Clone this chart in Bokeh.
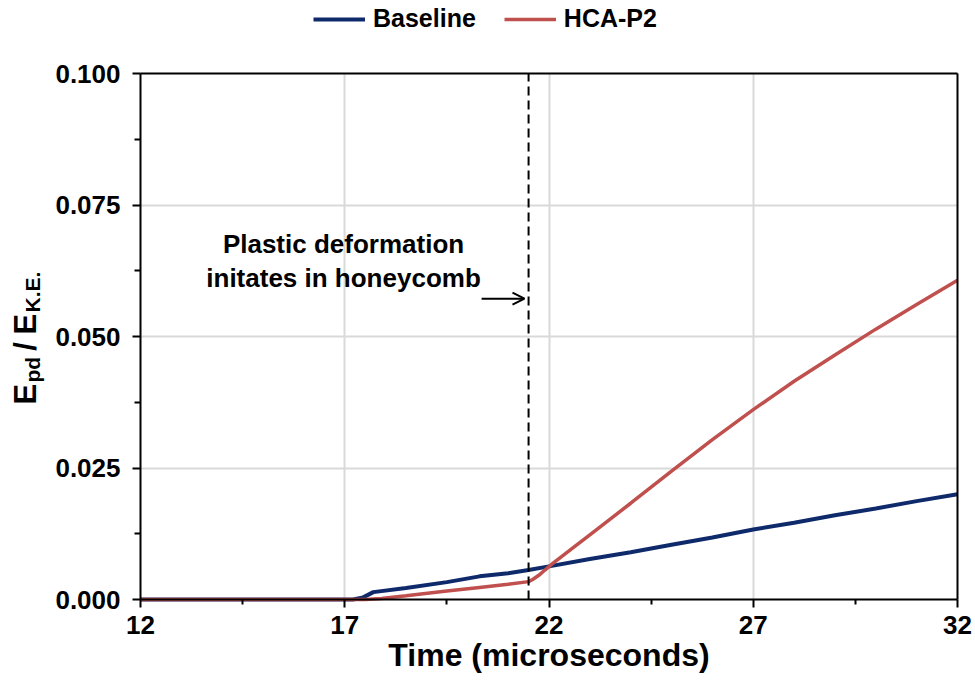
import math
from bokeh.plotting import figure
from bokeh.models import (Range1d, FixedTicker, Label, Arrow, OpenHead, Grid,
                          Legend, LegendItem, NumeralTickFormatter, LinearAxis)
from bokeh.embed import file_html
from bokeh.resources import INLINE

# ---- data ----
base_t = [12, 17.2, 17.45, 17.7, 18.5, 19.5, 20.3, 21.0, 21.5, 22.0, 23, 24, 25, 26, 27, 28, 29, 30, 31, 32]
base_v = [0, 0, 0.0004, 0.0014, 0.0022, 0.0033, 0.0044, 0.0050, 0.0056, 0.0063, 0.0077,
          0.0090, 0.0104, 0.0118, 0.0133, 0.0146, 0.0160, 0.0173, 0.0187, 0.0200]

hca_t = [12, 17.5, 17.9, 18.5, 19.5, 20.3, 21.0, 21.5, 21.6, 21.75, 21.9, 22.1, 22.3, 22.6,
         23, 24, 25, 26, 27, 28, 29, 30, 31, 32]
hca_v = [0, 0, 0.0002, 0.0007, 0.0016, 0.0023, 0.0029, 0.0034, 0.0038, 0.0046, 0.0056, 0.0069,
         0.0081, 0.0099, 0.0123, 0.0183, 0.0244, 0.0304, 0.0361, 0.0415, 0.0465, 0.0514,
         0.0561, 0.0607]

x_major = [12, 17, 22, 27, 32]
x_minor = [14.5, 19.5, 24.5, 29.5]
y_major = [0.0, 0.025, 0.05, 0.075, 0.1]
y_minor = [0.0125, 0.0375, 0.0625, 0.0875]

X_LO, X_HI = 12, 32
Y_LO, Y_HI = 0.0, 0.1

onset_t = 21.5
note_lines = ["Plastic deformation", "initates in honeycomb"]
note_x = 16.97
note_y = [0.0675, 0.0612]
arrow_x = [20.35, 21.40]
arrow_y = 0.0572

FONT = "Liberation Sans"
BLUE = "#0E2A6B"
RED = "#C0504D"

# ---- layout: frame covers the whole canvas; axes are pinned inside it ----
W, H = 975, 690
PL, PR, PT, PB = 140, 957, 73, 599      # plot box in canvas pixels
xs = (PR - PL) / (X_HI - X_LO)
ys = (PB - PT) / (Y_HI - Y_LO)
xr = Range1d(X_LO - PL / xs, X_HI + (W - PR) / xs)
yr = Range1d(Y_LO - (H - PB) / ys, Y_HI + PT / ys)

p = figure(width=W, height=H, output_backend="svg", toolbar_location=None,
           x_range=xr, y_range=yr, title=None, min_border=0)
p.background_fill_color = "white"
p.border_fill_color = "white"
p.outline_line_color = None

# grid lines limited to the plot box
grid_ok = "cross_bounds" in Grid.properties()
p.xgrid.ticker = FixedTicker(ticks=x_major[1:-1])
p.ygrid.ticker = FixedTicker(ticks=y_major[1:-1])
for g in (p.xgrid, p.ygrid):
    g.grid_line_color = "#D9D9D9"
    g.grid_line_width = 2
if grid_ok:
    p.xgrid.cross_bounds = (Y_LO, Y_HI)
    p.ygrid.cross_bounds = (X_LO, X_HI)
else:
    p.xgrid.visible = False
    p.ygrid.visible = False
    gx = x_major[1:-1]
    gy = y_major[1:-1]
    p.segment(x0=gx, y0=[Y_LO] * len(gx), x1=gx, y1=[Y_HI] * len(gx),
              line_color="#D9D9D9", line_width=2, level="underlay")
    p.segment(x0=[X_LO] * len(gy), y0=gy, x1=[X_HI] * len(gy), y1=gy,
              line_color="#D9D9D9", line_width=2, level="underlay")

# axes
xa = p.xaxis[0]
ya = p.yaxis[0]
xa.fixed_location = Y_LO
ya.fixed_location = X_LO
xa.bounds = (X_LO, X_HI)
ya.bounds = (Y_LO, Y_HI)
xa.ticker = FixedTicker(ticks=x_major, minor_ticks=x_minor)
ya.ticker = FixedTicker(ticks=y_major, minor_ticks=y_minor)
ya.formatter = NumeralTickFormatter(format="0.000")
for ax in (xa, ya):
    ax.axis_line_color = "black"
    ax.axis_line_width = 2
    ax.major_tick_line_color = "black"
    ax.major_tick_line_width = 2
    ax.minor_tick_line_color = "black"
    ax.minor_tick_line_width = 2
    ax.major_tick_in = 0
    ax.minor_tick_in = 0
    ax.major_tick_out = 8
    ax.major_label_text_font = FONT
    ax.major_label_text_font_style = "bold"
    ax.major_label_text_font_size = "26px"
    ax.major_label_text_color = "black"
xa.minor_tick_out = 5
ya.minor_tick_out = 6
xa.major_label_standoff = 8
ya.major_label_standoff = 12

xa.axis_label = "Time (microseconds)"
xa.axis_label_text_font = FONT
xa.axis_label_text_font_style = "bold"
xa.axis_label_text_font_size = "32px"
xa.axis_label_text_color = "black"
xa.axis_label_standoff = 0

# top and right borders of the plot box
top = LinearAxis(fixed_location=Y_HI, bounds=(X_LO, X_HI), ticker=FixedTicker(ticks=[]),
                 axis_line_color="black", axis_line_width=2)
right = LinearAxis(fixed_location=X_HI, bounds=(Y_LO, Y_HI), ticker=FixedTicker(ticks=[]),
                   axis_line_color="black", axis_line_width=2)
p.add_layout(top, "above")
p.add_layout(right, "right")

# y axis label composed of pieces (subscripts), rotated; canvas-based screen coords
ylab = [("E", 25, 404, "31px", "left"), ("pd", 32, 382, "21px", "left"),
        ("/", 25, 346, "31px", "center"), ("E", 25, 334, "31px", "left"),
        ("K.E.", 32, 312, "21px", "left")]
for txt, cx, cy, fs, al in ylab:
    p.add_layout(Label(x=cx, y=H - cy, x_units="screen", y_units="screen", text=txt,
                       angle=math.pi / 2, text_align=al, text_baseline="alphabetic",
                       text_font=FONT, text_font_style="bold",
                       text_font_size=fs, text_color="black"))

# series
r1 = p.line(base_t, base_v, line_color=BLUE, line_width=4)
r2 = p.line(hca_t, hca_v, line_color=RED, line_width=3.5)

# onset marker
p.segment(x0=[onset_t], y0=[Y_LO], x1=[onset_t], y1=[Y_HI], line_color="black",
          line_width=2, line_dash="9 5")
for txt, yy in zip(note_lines, note_y):
    p.add_layout(Label(x=note_x, y=yy, text=txt, text_align="center",
                       text_baseline="alphabetic", text_font=FONT,
                       text_font_style="bold", text_font_size="26px", text_color="black"))
p.add_layout(Arrow(x_start=arrow_x[0], y_start=arrow_y, x_end=arrow_x[1], y_end=arrow_y,
                   line_color="black", line_width=2,
                   end=OpenHead(size=12, line_color="black", line_width=2)))

legend = Legend(items=[LegendItem(label="Baseline", renderers=[r1]),
                       LegendItem(label="HCA-P2", renderers=[r2])],
                orientation="horizontal", location=(313, H - 33),
                glyph_width=52, glyph_height=28, label_standoff=8, spacing=28,
                padding=0, margin=0, border_line_color=None, background_fill_alpha=0,
                label_text_font=FONT, label_text_font_style="bold",
                label_text_font_size="25px", label_text_color="black")
p.add_layout(legend, "center")

open("out.html", "w").write(file_html(p, INLINE))
